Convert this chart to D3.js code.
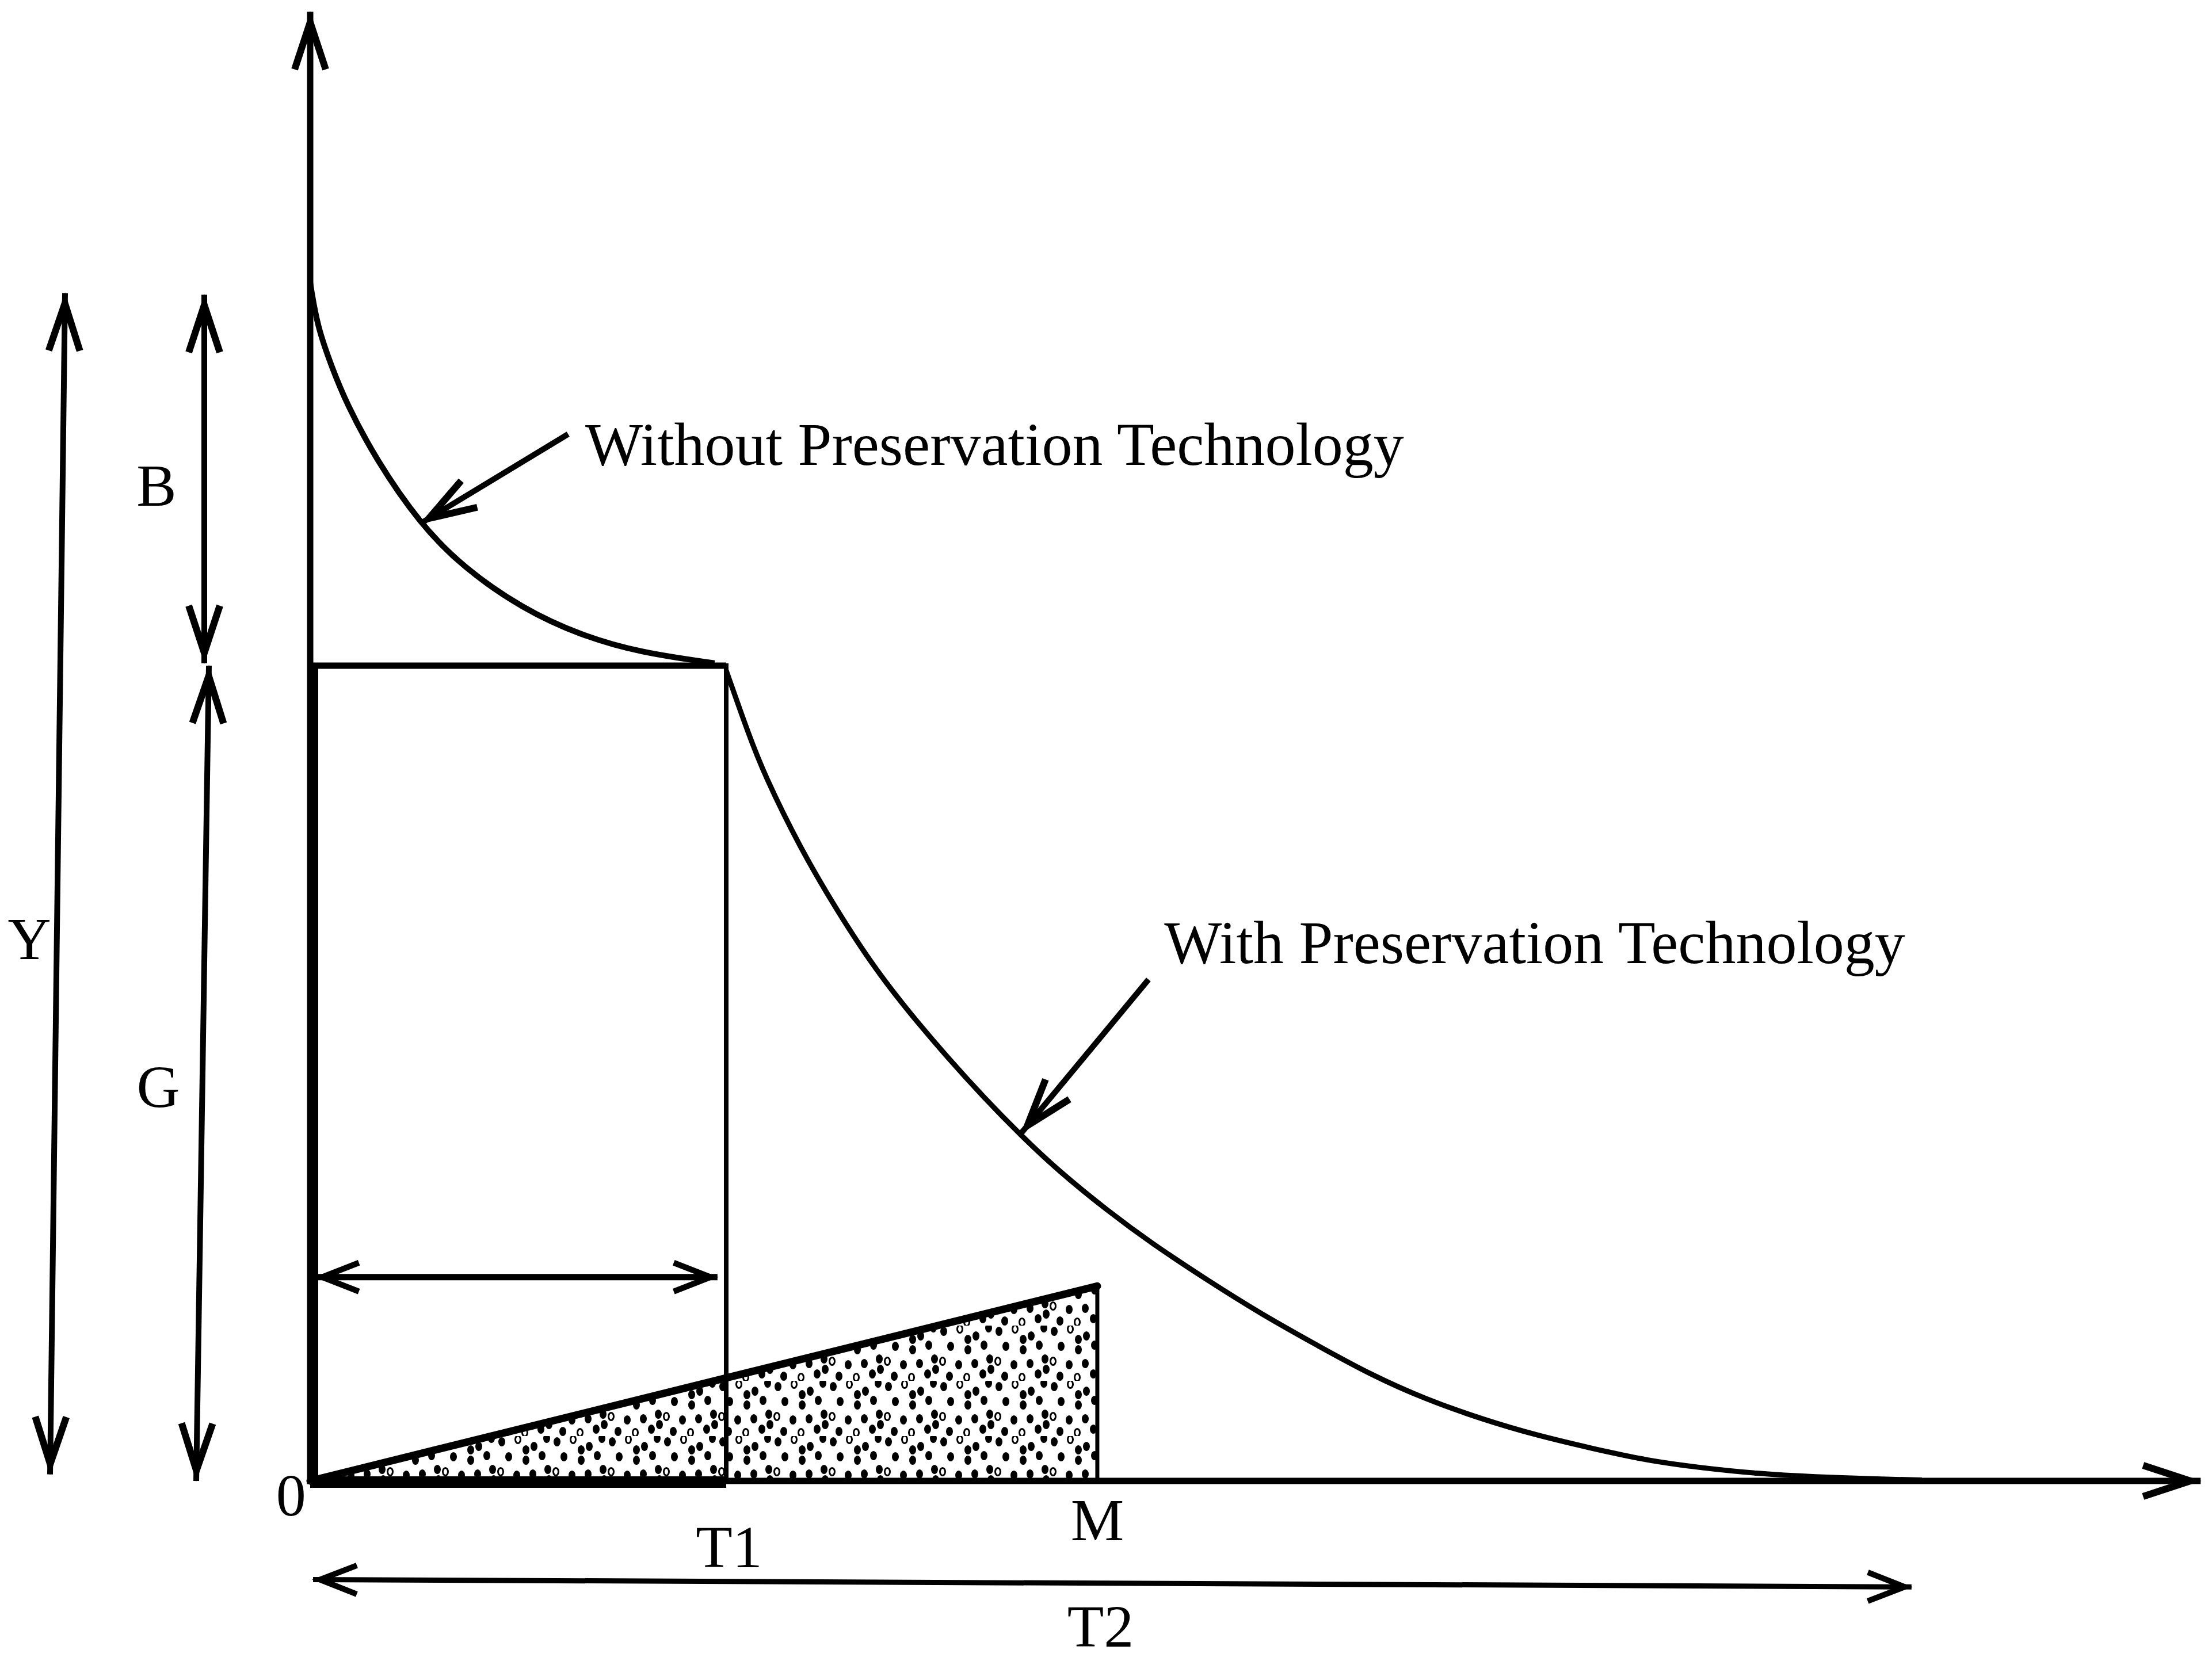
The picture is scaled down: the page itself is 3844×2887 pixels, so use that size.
<!DOCTYPE html>
<html>
<head>
<meta charset="utf-8">
<script src="https://cdn.jsdelivr.net/npm/d3@7"></script>
<style>
body { margin: 0; background: #fff; }
svg text { font-family: "Liberation Serif", "Times New Roman", serif; fill: #000; }
</style>
</head>
<body>
<svg id="chart" width="3844" height="2887"></svg>
<script>
// inventory level over time (x in units of T1, y in units of G)
var without_tech = [[0.0, 1.47], [0.017, 1.416], [0.053, 1.365], [0.087, 1.322],
    [0.158, 1.253], [0.264, 1.174], [0.369, 1.120], [0.510, 1.070], [0.651, 1.037],
    [0.793, 1.016], [0.972, 1.003]];
var with_tech = [[1.0, 0.994], [1.053, 0.917], [1.091, 0.867], [1.178, 0.776], [1.267, 0.699],
    [1.355, 0.630], [1.444, 0.572], [1.531, 0.520], [1.620, 0.470], [1.708, 0.424],
    [1.797, 0.381], [1.920, 0.330], [2.021, 0.292], [2.154, 0.247], [2.285, 0.205],
    [2.418, 0.167], [2.550, 0.130], [2.682, 0.100], [2.815, 0.076], [2.947, 0.056],
    [3.080, 0.040], [3.212, 0.025], [3.344, 0.016], [3.477, 0.009], [3.609, 0.005],
    [3.794, 0.002], [3.874, 0.001]];
var time_labels = ["T1", "M", "T2"];
var time_values = [1, 1.892, 3.849];
var level_labels = ["B", "G", "Y"];
var level_ranges = [[1.003, 1.455], [0, 1], [0.008, 1.457]];
var stock_peak = 0.239;
var cycle_level = 0.25;
var curve_labels = ["Without Preservation Technology", "With Preservation Technology"];

var identity = function(d) { return d; }
var svg = d3.select("#chart");
var x = d3.scaleLinear().domain([0, 1]).range([539, 1262]);
var y = d3.scaleLinear().domain([0, 1]).range([2574, 1157]);

var line = d3.line()
    .x(function(d) { return x(d[0]); })
    .y(function(d) { return y(d[1]); })
    .curve(d3.curveBasis);

var defs = svg.append("defs");
var add_head = function(id, len, half, back, width) {
    defs.append("marker")
        .attr("id", id)
        .attr("markerUnits", "userSpaceOnUse")
        .attr("orient", "auto-start-reverse")
        .attr("markerWidth", 1).attr("markerHeight", 1)
        .style("overflow", "visible")
        .append("path")
            .attr("d", "M" + (-len) + "," + (-half) + "L" + (-back) + ",0L" + (-len) + "," + half)
            .attr("fill", "none")
            .attr("stroke", "#000")
            .attr("stroke-width", width)
            .attr("stroke-miterlimit", 10);
}
add_head("head", 100, 27, 18, 12);
add_head("head_s", 76, 25, 12, 10);

// stipple texture for the triangle
var pat = defs.append("pattern")
    .attr("id", "stipple")
    .attr("patternUnits", "userSpaceOnUse")
    .attr("width", 96).attr("height", 96);
var dots = [[8, 10, 1], [36, 6, 0], [64, 18, 1], [86, 4, 1], [20, 36, 1], [50, 42, 1], [78, 34, 1],
    [6, 62, 0], [34, 68, 1], [62, 66, 1], [88, 58, 1], [18, 88, 1], [48, 90, 0], [76, 84, 1],
    [50, 24, 1], [90, 76, 1]];
pat.selectAll("ellipse").data(dots).enter()
    .append("ellipse")
        .attr("cx", function(d) { return d[0]; })
        .attr("cy", function(d) { return d[1]; })
        .attr("rx", 4.5).attr("ry", 6.5)
        .attr("fill", function(d) { return d[2] ? "#000" : "#fff"; })
        .attr("stroke", "#000")
        .attr("stroke-width", 3);

var seg = function(x1, y1, x2, y2, w) {
    return svg.append("line")
        .attr("x1", x1).attr("y1", y1).attr("x2", x2).attr("y2", y2)
        .attr("stroke", "#000").attr("stroke-width", w);
}

// stock triangle
svg.append("path")
    .datum([[0, 0], [time_values[1], stock_peak], [time_values[1], 0]])
    .attr("d", d3.line().x(function(d) { return x(d[0]); }).y(function(d) { return y(d[1]); }))
    .attr("fill", "url(#stipple)");
seg(x(0), y(0), x(time_values[1]), y(stock_peak), 13).attr("stroke-linecap", "round");
seg(x(time_values[1]), y(stock_peak) - 4, x(time_values[1]), y(0), 7);

// axes
seg(x(0), y(0) + 5, x(0), y(1.802), 11).attr("marker-end", "url(#head)");
seg(x(0) - 5, y(0), x(4.544), y(0), 11).attr("marker-end", "url(#head)");
seg(x(0), y(0) + 2, x(time_values[0]), y(0) + 2, 20);

// replenishment rectangle
seg(x(0), y(1), x(time_values[0]), y(1), 11);
seg(x(0) + 7, y(1), x(0) + 7, y(0), 14);
seg(x(time_values[0]), y(1) - 4, x(time_values[0]), y(0), 8);
seg(x(0.012), y(cycle_level), x(0.979), y(cycle_level), 11)
    .attr("marker-start", "url(#head_s)").attr("marker-end", "url(#head_s)");

// inventory curves
svg.append("path").datum(without_tech)
    .attr("d", line).attr("fill", "none").attr("stroke", "#000").attr("stroke-width", 10);
svg.append("path").datum(with_tech)
    .attr("d", line).attr("fill", "none").attr("stroke", "#000").attr("stroke-width", 9);

// curve labels and pointers
seg(x(0.620), y(1.284), x(0.264), y(1.174), 10).attr("marker-end", "url(#head)");
seg(x(2.015), y(0.615), x(1.708), y(0.426), 10).attr("marker-end", "url(#head)");
svg.selectAll("text.curve").data(curve_labels).enter()
    .append("text")
        .attr("class", "curve")
        .attr("x", function(d, i) { return i == 0 ? x(0.661) : x(2.053); })
        .attr("y", function(d, i) { return i == 0 ? y(1.246) : y(0.635); })
        .attr("font-size", 106)
        .text(identity);

// level dimension arrows (B, G, Y)
var level_x = [[-184, -184], [-176, -198], [-426, -452]];
var level_text = [[-267, 1.196], [-264, 0.459], [-488, 0.640]];
level_ranges.forEach(function(r, i) {
    seg(x(0) + level_x[i][0], y(r[1]), x(0) + level_x[i][1], y(r[0]), 10)
        .attr("marker-start", "url(#head)").attr("marker-end", "url(#head)");
    svg.append("text")
        .attr("x", x(0) + level_text[i][0])
        .attr("y", y(level_text[i][1]))
        .attr("text-anchor", "middle")
        .attr("font-size", 104)
        .text(level_labels[i]);
});

// time labels
var time_y = [-0.106, -0.073, -0.203];
svg.selectAll("text.time").data(time_labels).enter()
    .append("text")
        .attr("class", "time")
        .attr("x", function(d, i) {
            if (i == 2) return (x(0) + x(time_values[2])) / 2 - 18;
            return x(time_values[i]) + (i == 0 ? 5 : 0);
        })
        .attr("y", function(d, i) { return y(time_y[i]); })
        .attr("text-anchor", "middle")
        .attr("font-size", 104)
        .text(identity);
svg.append("text")
    .attr("x", x(-0.046)).attr("y", y(-0.042))
    .attr("text-anchor", "middle")
    .attr("font-size", 104)
    .text("0");

// cycle length arrow T2
seg(x(0.007), y(-0.121), x(time_values[2]), y(-0.130), 9)
    .attr("marker-start", "url(#head_s)").attr("marker-end", "url(#head_s)");
</script>
</body>
</html>
